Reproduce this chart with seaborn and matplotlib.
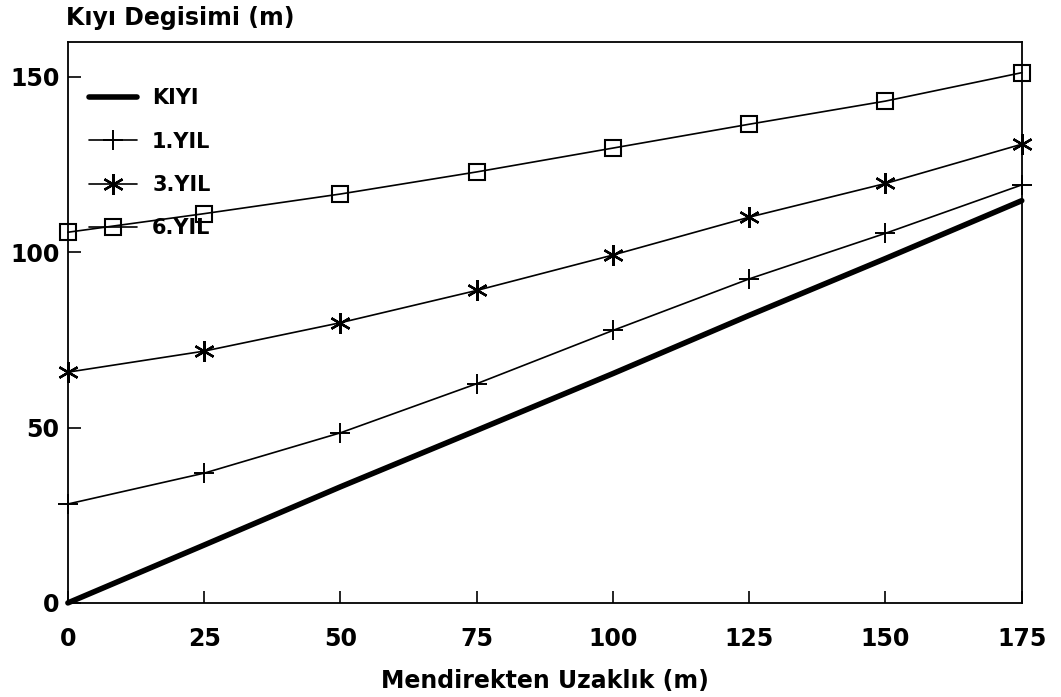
import matplotlib
matplotlib.use("Agg")
import matplotlib.pyplot as plt
import seaborn as sns

# Data
distance = [0, 25, 50, 75, 100, 125, 150, 175]
kiyi = [0, 16.5, 33.1, 49.2, 65.4, 82.0, 98.2, 114.7]
yil1 = [28.2, 37.0, 48.5, 62.5, 77.7, 92.4, 105.4, 119.2]
yil3 = [65.8, 71.8, 79.9, 89.1, 99.2, 110.0, 119.6, 130.8]
yil6 = [105.7, 111.0, 116.6, 122.9, 129.7, 136.5, 143.1, 151.2]
series_names = ["KIYI", "1.YIL", "3.YIL", "6.YIL"]
x_ticks = [0, 25, 50, 75, 100, 125, 150, 175]
y_ticks = [0, 50, 100, 150]
title = "Kıyı Degisimi (m)"
xlabel = "Mendirekten Uzaklık (m)"

sns.set_style("white")
plt.rcParams['font.family'] = ['DejaVu Sans']
plt.rcParams['font.weight'] = 'bold'
plt.rcParams['text.color'] = 'black'
plt.rcParams['axes.labelcolor'] = 'black'
plt.rcParams['xtick.color'] = 'black'
plt.rcParams['ytick.color'] = 'black'

fig = plt.figure(figsize=(10.61, 6.97), dpi=100)
ax = fig.add_axes([0.064, 0.135, 0.899, 0.805])

common = dict(color='black', ax=ax, clip_on=False, markeredgecolor='black')
sns.lineplot(x=distance, y=kiyi, linewidth=4.0, label=series_names[0], **common)
sns.lineplot(x=distance, y=yil1, linewidth=1.2, marker='+', markersize=15,
             markeredgewidth=1.4, label=series_names[1], **common)
sns.lineplot(x=distance, y=yil3, linewidth=1.2, marker=(6, 2, 0), markersize=15,
             markeredgewidth=1.7, label=series_names[2], **common)
sns.lineplot(x=distance, y=yil6, linewidth=1.2, marker='s', markersize=11,
             markerfacecolor='none', markeredgewidth=1.5, label=series_names[3], **common)

ax.set_xlim(0, 175)
ax.set_ylim(0, 160)
ax.set_xticks(x_ticks)
ax.set_yticks(y_ticks)
ax.tick_params(axis='both', direction='in', length=9, width=1.2, labelsize=17,
               top=False, right=False, bottom=True, left=True)
ax.tick_params(axis='x', pad=17)
ax.tick_params(axis='y', pad=6)
for lbl in ax.get_xticklabels() + ax.get_yticklabels():
    lbl.set_fontweight('bold')
for sp in ax.spines.values():
    sp.set_color('black')
    sp.set_linewidth(1.3)
    sp.set_visible(True)

ax.set_xlabel(xlabel, fontsize=17, fontweight='bold', labelpad=13)
ax.set_ylabel("")
fig.text(0.062, 0.974, title, fontsize=17, fontweight='bold', ha='left', va='center')

leg = ax.legend(loc='upper left', frameon=False, fontsize=15, handlelength=2.3,
                labelspacing=1.12, handletextpad=0.75, borderaxespad=0.0,
                bbox_to_anchor=(0.013, 0.932))
for t in leg.get_texts():
    t.set_fontweight('bold')

fig.savefig("out.png", dpi=100)
